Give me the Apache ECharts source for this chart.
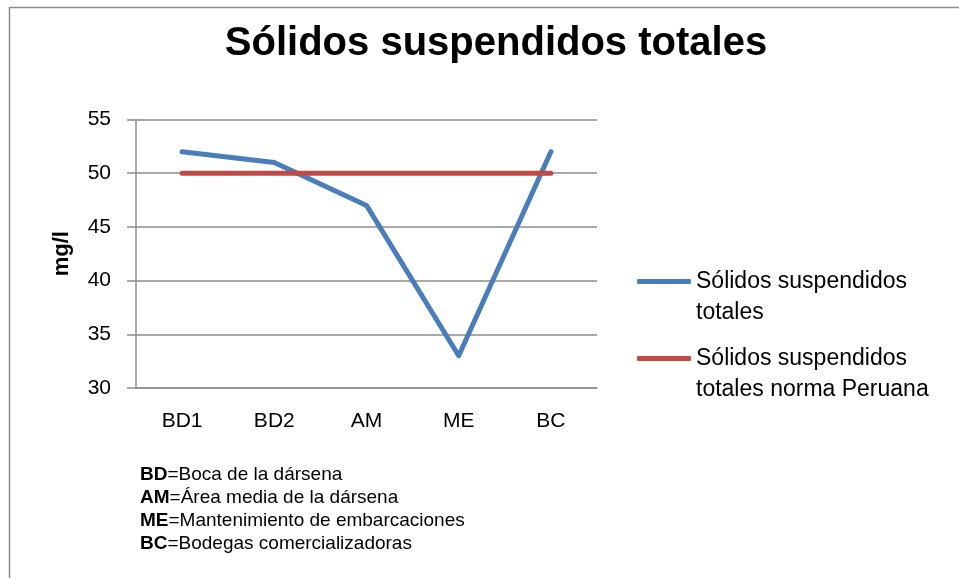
<!DOCTYPE html>
<html>
<head>
<meta charset="utf-8">
<script src="https://cdn.jsdelivr.net/npm/echarts@6/dist/echarts.min.js"></script>
<style>
  html, body { margin: 0; padding: 0; background: #fff; }
  #main { width: 959px; height: 578px; }
</style>
</head>
<body>
<div id="main"></div>
<script>
// categorias e valores
var categorias = ['BD1', 'BD2', 'AM', 'ME', 'BC'];
var solidos = [52, 51, 47, 33, 52];
var norma = [50, 50, 50, 50, 50];
var nomeSolidos = 'Sólidos suspendidos totales';
var nomeNorma = 'Sólidos suspendidos totales norma Peruana';
var notas = [
  ['BD', '=Boca de la dársena'],
  ['AM', '=Área media de la dársena'],
  ['ME', '=Mantenimiento de embarcaciones'],
  ['BC', '=Bodegas comercializadoras']
];

var fonte = 'Liberation Sans';
var myChart = echarts.init(document.getElementById('main'));

// texto das notas de rodape
var notasGraphic = notas.map(function (n, i) {
  return {
    type: 'text',
    left: 140,
    top: 465 + i * 23,
    style: {
      text: '{b|' + n[0] + '}{r|' + n[1] + '}',
      rich: {
        b: { fontFamily: fonte, fontWeight: 'bold', fontSize: 19, fill: '#000' },
        r: { fontFamily: fonte, fontSize: 19, fill: '#000' }
      }
    }
  };
});

// legenda: uma por serie, texto em duas linhas
// (linha vazia em cima para o icone ficar na altura da primeira linha)
function legenda(nome, texto, topo) {
  return {
    data: [nome],
    left: 637,
    top: topo,
    padding: 0,
    itemWidth: 54,
    itemHeight: 5,
    icon: 'roundRect',
    formatter: function () { return '\n' + texto; },
    textStyle: { fontFamily: fonte, fontSize: 23, color: '#000', lineHeight: 31 }
  };
}

myChart.setOption({
  backgroundColor: '#fff',
  animation: false,
  title: {
    text: 'Sólidos suspendidos totales',
    left: 491,
    textAlign: 'center',
    top: 19,
    textStyle: { fontFamily: fonte, fontWeight: 'bold', fontSize: 40, color: '#000' }
  },
  legend: [
    legenda(nomeSolidos, 'Sólidos suspendidos\ntotales', 235),
    legenda(nomeNorma, 'Sólidos suspendidos\ntotales norma Peruana', 312)
  ],
  grid: { left: 136, top: 119.5, right: 362, bottom: 190 },
  xAxis: {
    type: 'category',
    data: categorias,
    boundaryGap: true,
    axisLine: { lineStyle: { color: '#8c8c8c', width: 1.5 } },
    axisTick: { show: false },
    axisLabel: { fontFamily: fonte, fontSize: 21, color: '#000', margin: 23 }
  },
  yAxis: {
    type: 'value',
    min: 30,
    max: 55,
    interval: 5,
    name: 'mg/l',
    nameLocation: 'middle',
    nameGap: 63,
    nameRotate: 90,
    nameTextStyle: { fontFamily: fonte, fontWeight: 'bold', fontSize: 22, color: '#000' },
    axisLine: { show: true, lineStyle: { color: '#8c8c8c', width: 1.5 } },
    axisTick: { show: true, length: 9, lineStyle: { color: '#8c8c8c', width: 1.5 } },
    axisLabel: { fontFamily: fonte, fontSize: 21, color: '#000', margin: 25 },
    splitLine: { lineStyle: { color: '#8c8c8c', width: 1.5 } }
  },
  series: [
    {
      name: nomeSolidos,
      type: 'line',
      data: solidos,
      symbol: 'none',
      color: '#4a7ebb',
      lineStyle: { width: 5, cap: 'round', join: 'round' }
    },
    {
      name: nomeNorma,
      type: 'line',
      data: norma,
      symbol: 'none',
      color: '#be4b48',
      lineStyle: { width: 5, cap: 'round', join: 'round' }
    }
  ],
  graphic: [
    {
      type: 'polyline',
      shape: { points: [[9.5, 578], [9.5, 7.5], [959, 7.5]] },
      style: { stroke: '#8c8c8c', lineWidth: 1.5, fill: null }
    }
  ].concat(notasGraphic)
});
</script>
</body>
</html>
